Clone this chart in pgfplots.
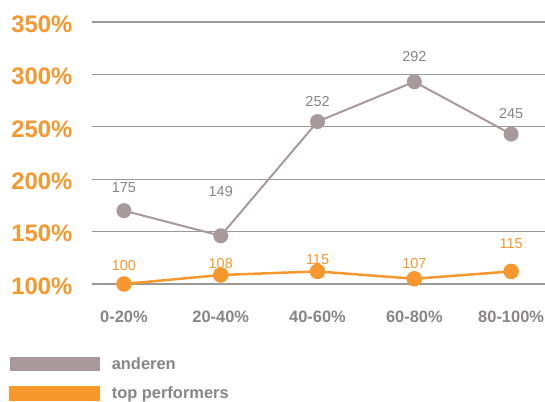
\documentclass[border=0pt]{standalone}
\usepackage{pgfplots}
\pgfplotsset{compat=1.18}
\usepackage{fontspec}
\setmainfont{Liberation Sans}
\definecolor{myorange}{HTML}{F7982E}
\definecolor{mygray}{HTML}{A89A9C}
\definecolor{txtgray}{HTML}{8A8486}
\definecolor{gridgray}{HTML}{999999}
\begin{document}
\begin{tikzpicture}[x=1bp,y=1bp]
\useasboundingbox (0,0) rectangle (545,401);
\begin{axis}[
  at={(92bp,117bp)}, anchor=south west,
  scale only axis, width=453bp, height=262bp,
  xmin=-0.33, xmax=4.35, ymin=100, ymax=350,
  axis line style={draw=none}, clip=false,
  ytick={100,150,200,250,300,350},
  yticklabels={100\%,150\%,200\%,250\%,300\%,350\%},
  xtick={0,1,2,3,4},
  xticklabels={0-20\%,20-40\%,40-60\%,60-80\%,80-100\%},
  ymajorgrids, major grid style={gridgray, line width=1.1bp},
  major tick length=0pt,
  /pgf/number format/assume math mode=true,
  yticklabel style={font=\bfseries\fontsize{24}{27}\selectfont, text=myorange, xshift=-16bp, yshift=-2bp},
  xticklabel style={font=\bfseries\fontsize{16.5}{19}\selectfont, text=txtgray, yshift=-23bp},
  legend style={at={(-0.183,-0.278)}, anchor=north west, draw=none, fill=none,
    font=\bfseries\fontsize{16.5}{19}\selectfont, text=txtgray, row sep=15bp,
    inner sep=0pt, nodes={inner sep=0pt},
    /tikz/every odd column/.append style={column sep=12bp}},
  legend cell align=left,
]
\addplot[mygray, line width=2bp, mark=*, mark size=6.5bp,
  legend image code/.code={\fill[mygray] (0bp,-6bp) rectangle (88bp,6bp);}]
  coordinates {(0,170) (1,146) (2,255) (3,293) (4,243)};
\addlegendentry{anderen}
\addplot[myorange, line width=2.5bp, mark=*, mark size=6.5bp,
  legend image code/.code={\fill[myorange] (0bp,-6bp) rectangle (88bp,6bp);}]
  coordinates {(0,100) (1,108.6) (2,112) (3,105) (4,112)};
\addlegendentry{top performers}
\addplot[draw=none, forget plot, nodes near coords, point meta=explicit symbolic,
  nodes near coords align={center},
  every node near coord/.append style={font=\fontsize{14.5}{17}\selectfont, text=txtgray, inner sep=0pt}]
  table[meta=l] {
x y l
0 191.6 175
1 188.7 149
2 273.7 252
3 316.6 292
4 262.2 245
};
\addplot[draw=none, forget plot, nodes near coords, point meta=explicit symbolic,
  nodes near coords align={center},
  every node near coord/.append style={font=\fontsize{14.5}{17}\selectfont, text=myorange, inner sep=0pt}]
  table[meta=l] {
x y l
0 117.2 100
1 119.1 108
2 123.4 115
3 120.0 107
4 138.6 115
};
\end{axis}
\end{tikzpicture}
\end{document}
